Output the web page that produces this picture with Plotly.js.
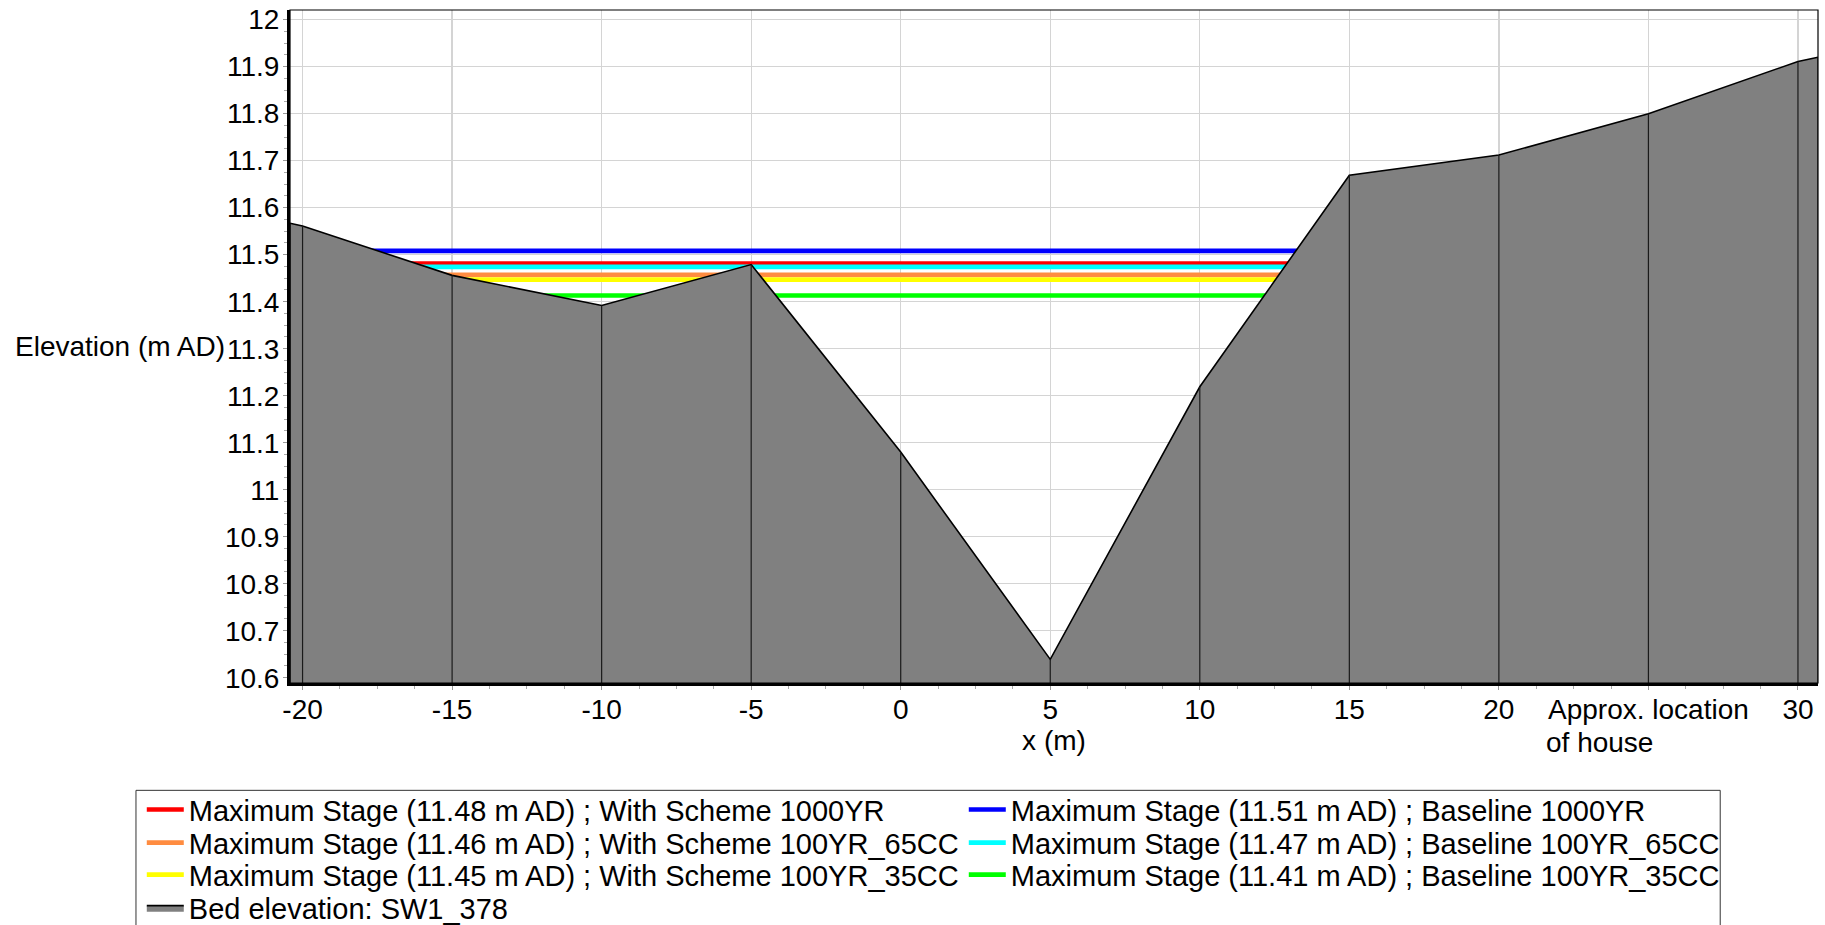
<!DOCTYPE html>
<html>
<head>
<meta charset="utf-8">
<script src="https://cdn.plot.ly/plotly-3.0.1.min.js"></script>
<style>
  html, body { margin: 0; padding: 0; background: #ffffff; }
  #chart { width: 1825px; height: 925px; }
</style>
</head>
<body>
<div id="chart"></div>
<script>
// ---------- data ----------
// Bed profile (chainage x in m, elevation in m AD)
var bedX = [-20.42, -20, -15, -10, -5, 0, 5, 10, 15, 20, 25, 30, 30.67];
var bedY = [11.567, 11.561, 11.456, 11.392, 11.479, 11.080, 10.639, 11.219, 11.669, 11.712, 11.800, 11.911, 11.920];
var bedName = 'Bed elevation: SW1_378';

// Maximum stage lines (legend order: row by row)
var stageNames = [
  'Maximum Stage (11.48 m AD) ; With Scheme 1000YR',
  'Maximum Stage (11.51 m AD) ; Baseline 1000YR',
  'Maximum Stage (11.46 m AD) ; With Scheme 100YR_65CC',
  'Maximum Stage (11.47 m AD) ; Baseline 100YR_65CC',
  'Maximum Stage (11.45 m AD) ; With Scheme 100YR_35CC',
  'Maximum Stage (11.41 m AD) ; Baseline 100YR_35CC'
];
var stageLevels = [11.481, 11.508, 11.457, 11.474, 11.447, 11.413];
var stageLeftX  = [-16.5, -17.8, -15.4, -16.2, -14.8, -12.2];
var stageRightX = [13.1, 13.4, 12.8, 13.0, 12.7, 12.4];

// Axis ticks
var xTickVals = [-20, -15, -10, -5, 0, 5, 10, 15, 20, 25, 30];
var xTickText = ['-20', '-15', '-10', '-5', '0', '5', '10', '15', '20', 'Approx. location', '30'];
var yTickVals = [10.6, 10.7, 10.8, 10.9, 11, 11.1, 11.2, 11.3, 11.4, 11.5, 11.6, 11.7, 11.8, 11.9, 12];
var yTickText = ['10.6', '10.7', '10.8', '10.9', '11', '11.1', '11.2', '11.3', '11.4', '11.5', '11.6', '11.7', '11.8', '11.9', '12'];

// ---------- styles ----------
var stageColors = ['#ff0000', '#0000ff', '#ff8c40', '#00ffff', '#ffff00', '#00ff00'];
var stageLegends = ['legend', 'legend', 'legend2', 'legend2', 'legend3', 'legend3'];
var FONT = 'Liberation Sans, Arial, sans-serif';
var xRange = [bedX[0], bedX[bedX.length - 1]];
var yRange = [10.5887, 12.0206];

var traces = [];
for (var i = 0; i < stageNames.length; i++) {
  traces.push({
    type: 'scatter', mode: 'lines',
    name: stageNames[i],
    legend: stageLegends[i],
    x: [stageLeftX[i], stageRightX[i]],
    y: [stageLevels[i], stageLevels[i]],
    line: { color: stageColors[i], width: 4.6 },
    hoverinfo: 'name'
  });
}
traces.push({
  type: 'scatter', mode: 'lines',
  name: bedName,
  legend: 'legend4',
  x: bedX, y: bedY,
  fill: 'tozeroy', fillcolor: '#808080',
  line: { color: '#000000', width: 1.6 }
});
// vertical lines at each section point
var vx = [], vy = [];
for (var j = 0; j < bedX.length; j++) {
  vx.push(bedX[j], bedX[j], null);
  vy.push(bedY[j], yRange[0], null);
}
traces.push({
  type: 'scatter', mode: 'lines', x: vx, y: vy,
  line: { color: '#1a1a1a', width: 1.2 },
  showlegend: false, hoverinfo: 'skip'
});

function legendRow(yPos) {
  return {
    orientation: 'h',
    x: -0.097, xanchor: 'left',
    y: yPos, yanchor: 'top',
    itemwidth: 37,
    entrywidth: 770,
    font: { family: FONT, size: 29, color: '#000000' },
    bgcolor: 'rgba(0,0,0,0)', borderwidth: 0,
    traceorder: 'normal'
  };
}

var layout = {
  width: 1825, height: 925,
  margin: { l: 290, r: 7, t: 10, b: 242, autoexpand: false },
  paper_bgcolor: '#ffffff', plot_bgcolor: '#ffffff',
  font: { family: FONT, size: 28, color: '#000000' },
  showlegend: true,
  xaxis: {
    range: xRange,
    tickmode: 'array', tickvals: xTickVals, ticktext: xTickText,
    showgrid: true, gridcolor: '#d4d4d4', gridwidth: 1.3,
    zeroline: false,
    showline: true, linecolor: '#000000', linewidth: 3,
    ticks: 'outside', ticklen: 4, tickcolor: '#999999', tickwidth: 1,
    ticklabelstandoff: -5,
    tickfont: { family: FONT, size: 28, color: '#000000' },
    minor: { dtick: 1.25, tick0: 0, ticks: 'outside', ticklen: 3, tickcolor: '#aaaaaa', showgrid: false },
    title: { text: 'x (m)', font: { family: FONT, size: 28, color: '#000000' }, standoff: 0 }
  },
  yaxis: {
    range: yRange,
    tickmode: 'array', tickvals: yTickVals, ticktext: yTickText,
    showgrid: true, gridcolor: '#d4d4d4', gridwidth: 1.3,
    zeroline: false,
    showline: true, linecolor: '#000000', linewidth: 3,
    ticks: 'outside', ticklen: 4, tickcolor: '#999999', tickwidth: 1,
    ticklabelstandoff: -2,
    tickfont: { family: FONT, size: 28, color: '#000000' },
    minor: { dtick: 0.025, tick0: 10.6, ticks: 'outside', ticklen: 3, tickcolor: '#aaaaaa', showgrid: false }
  },
  legend: legendRow(-0.1503),
  legend2: legendRow(-0.1995),
  legend3: legendRow(-0.2470),
  legend4: legendRow(-0.2961),
  shapes: [
    { type: 'rect', xref: 'paper', yref: 'paper', x0: 0, x1: 1, y0: 0, y1: 1,
      line: { color: '#000000', width: 1.2 }, fillcolor: 'rgba(0,0,0,0)', layer: 'above' },
    { type: 'rect', xref: 'paper', yref: 'paper', x0: -0.1008, x1: 0.936, y0: -0.1595, y1: -0.45,
      line: { color: '#333333', width: 1 }, fillcolor: 'rgba(0,0,0,0)', layer: 'above' }
  ],
  annotations: [
    { text: 'Elevation (m AD)', xref: 'paper', yref: 'paper', x: -0.181, y: 0.5,
      xanchor: 'left', yanchor: 'middle', showarrow: false,
      font: { family: FONT, size: 28, color: '#000000' } },
    { text: 'of house', xref: 'x', yref: 'paper', x: xTickVals[9], y: -0.0877,
      xanchor: 'left', yanchor: 'middle', xshift: -104, showarrow: false,
      font: { family: FONT, size: 28, color: '#000000' } }
  ]
};

Plotly.newPlot('chart', traces, layout, { displayModeBar: false, staticPlot: true });
</script>
</body>
</html>
